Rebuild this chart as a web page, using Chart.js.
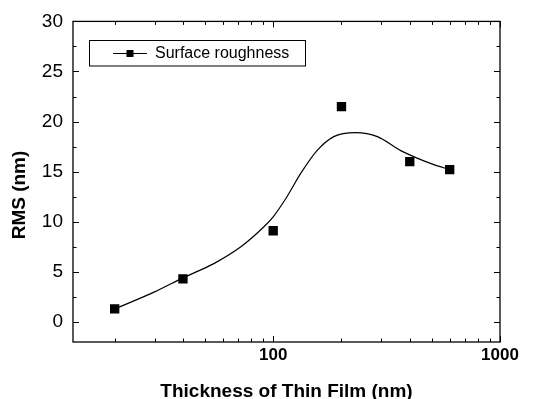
<!DOCTYPE html>
<html>
<head>
<meta charset="utf-8">
<title>RMS vs thickness</title>
<script src="https://cdn.jsdelivr.net/npm/chart.js@4/dist/chart.umd.min.js"></script>
<style>
    html, body { margin: 0; padding: 0; background: #fff; }
    #wrap { width: 533px; height: 399px; }
</style>
</head>
<body>
<div id="wrap"><canvas id="rmsChart"></canvas></div>
<script>
// Datos medidos
const thickness = [20, 40, 100, 200, 400, 600];
const rms = [1.3, 4.3, 9.1, 21.5, 16.0, 15.2];

// Curva suavizada
const fitThickness = [20, 30, 40, 55, 72, 91, 100, 115, 132, 156, 185, 231, 288, 365, 431, 511, 600];
const fitRms = [1.3, 3.0, 4.4, 5.85, 7.5, 9.5, 10.5, 12.5, 14.8, 17.1, 18.5, 18.9, 18.5, 17.1, 16.35, 15.7, 15.2];

// Marcas de los ejes
const xMajorTicks = [100, 1000];
const xMinorTicks = [20, 30, 40, 50, 60, 70, 80, 90, 200, 300, 400, 500, 600, 700, 800, 900];
const yMajorTicks = [0, 5, 10, 15, 20, 25, 30];
const yMinorTicks = [2.5, 7.5, 12.5, 17.5, 22.5, 27.5];

const seriesLabel = 'Surface roughness';
const xTitle = 'Thickness of Thin Film (nm)';
const yTitle = 'RMS (nm)';

// Marco y marcas hacia dentro en los cuatro lados
const framePlugin = {
    id: 'frame',
    afterDraw(chart) {
        const { ctx, chartArea: a, scales: { x, y } } = chart;
        ctx.save();
        ctx.strokeStyle = '#000';
        ctx.lineWidth = 1.3;
        ctx.strokeRect(a.left, a.top, a.right - a.left, a.bottom - a.top);
        ctx.lineWidth = 1;
        ctx.beginPath();
        const xt = (v, len) => {
            const px = Math.round(x.getPixelForValue(v)) + 0.5;
            ctx.moveTo(px, a.bottom); ctx.lineTo(px, a.bottom - len);
            ctx.moveTo(px, a.top); ctx.lineTo(px, a.top + len);
        };
        const yt = (v, len) => {
            const py = Math.round(y.getPixelForValue(v)) + 0.5;
            ctx.moveTo(a.left, py); ctx.lineTo(a.left + len, py);
            ctx.moveTo(a.right, py); ctx.lineTo(a.right - len, py);
        };
        xMajorTicks.forEach(v => xt(v, 6));
        xMinorTicks.forEach(v => xt(v, 3.5));
        yMajorTicks.forEach(v => yt(v, 6));
        yMinorTicks.forEach(v => yt(v, 3.5));
        ctx.stroke();

        // Título del eje Y
        ctx.fillStyle = '#000';
        ctx.font = 'bold 19px "Liberation Sans", Arial, sans-serif';
        ctx.textAlign = 'center';
        ctx.textBaseline = 'middle';
        ctx.translate(20, 195);
        ctx.rotate(-Math.PI / 2);
        ctx.fillText(yTitle, 0, 0);
        ctx.restore();
    }
};

// Leyenda con recuadro dentro del área del gráfico
const legendPlugin = {
    id: 'boxLegend',
    afterDraw(chart) {
        const { ctx } = chart;
        ctx.save();
        ctx.strokeStyle = '#000';
        ctx.lineWidth = 1;
        ctx.strokeRect(89.5, 40.5, 216, 25.5);
        ctx.beginPath();
        ctx.moveTo(113, 53.5);
        ctx.lineTo(147, 53.5);
        ctx.stroke();
        ctx.fillStyle = '#000';
        ctx.fillRect(126.5, 50, 7, 7);
        ctx.font = '16px "Liberation Sans", Arial, sans-serif';
        ctx.textAlign = 'left';
        ctx.textBaseline = 'middle';
        ctx.fillText(chart.data.datasets[0].label, 155, 53.5);
        ctx.restore();
    }
};

function buildChart() {
    const ctx = document.getElementById('rmsChart').getContext('2d');
    new Chart(ctx, {
        type: 'scatter',
        data: {
            datasets: [{
                label: seriesLabel,
                data: thickness.map((t, i) => ({ x: t, y: rms[i] })),
                showLine: false,
                pointStyle: 'rect',
                pointRadius: 6.6,
                backgroundColor: '#000',
                borderColor: '#000',
                borderWidth: 0,
                order: 1
            }, {
                label: 'fit',
                data: fitThickness.map((t, i) => ({ x: t, y: fitRms[i] })),
                showLine: true,
                pointRadius: 0,
                borderColor: '#000',
                borderWidth: 1.2,
                cubicInterpolationMode: 'monotone',
                fill: false,
                order: 2
            }]
        },
        options: {
            responsive: true,
            maintainAspectRatio: false,
            animation: false,
            events: [],
            layout: { padding: { left: 0, right: 33, top: 21, bottom: 0 } },
            plugins: {
                legend: { display: false },
                tooltip: { enabled: false }
            },
            scales: {
                x: {
                    type: 'logarithmic',
                    min: 13.1,
                    max: 1000,
                    grid: { display: false, drawTicks: false },
                    border: { display: false },
                    afterBuildTicks: scale => {
                        scale.ticks = xMajorTicks.map(v => ({ value: v }));
                    },
                    afterFit: scale => { scale.height = 57; },
                    ticks: {
                        autoSkip: false,
                        maxRotation: 0,
                        padding: 3,
                        color: '#000',
                        font: { family: '"Liberation Sans", Arial, sans-serif', size: 17, weight: 'bold' },
                        callback: v => String(v)
                    },
                    title: {
                        display: true,
                        text: xTitle,
                        color: '#000',
                        padding: { top: 0, bottom: -2 },
                        font: { family: '"Liberation Sans", Arial, sans-serif', size: 19, weight: 'bold', lineHeight: 1 }
                    }
                },
                y: {
                    min: -2,
                    max: 30,
                    grid: { display: false, drawTicks: false },
                    border: { display: false },
                    afterBuildTicks: scale => {
                        scale.ticks = yMajorTicks.map(v => ({ value: v }));
                    },
                    afterFit: scale => { scale.width = 73; },
                    ticks: {
                        padding: 10,
                        color: '#000',
                        font: { family: '"Liberation Sans", Arial, sans-serif', size: 19 }
                    }
                }
            }
        },
        plugins: [framePlugin, legendPlugin]
    });
}

buildChart();
</script>
</body>
</html>
